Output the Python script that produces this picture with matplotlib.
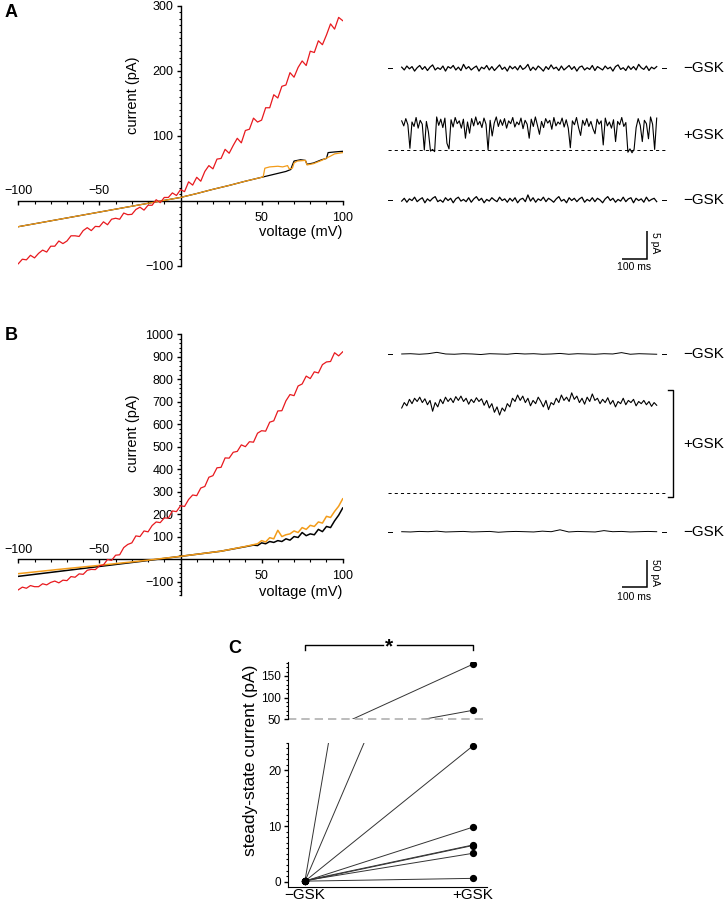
import numpy as np
import matplotlib
matplotlib.use('Agg')
import matplotlib.pyplot as plt
from matplotlib.ticker import MultipleLocator, FixedLocator

plt.rcParams['font.family'] = ['Liberation Sans', 'DejaVu Sans']

W, H = 726, 907
RED = '#e8191e'
ORANGE = '#f39c1a'

# ---------------- data ----------------
# voltage ramp (mV) used for the +GSK I-V traces
ramp_v = np.arange(-100, 100.1, 2.5)

# panel A, I-V (pA)
a_iv_gsk = [-97, -90, -91, -84, -88, -81, -76, -79, -70, -70,
            -62, -66, -62, -54, -54, -55, -46, -41.5, -46, -39.5,
            -40, -32.5, -37, -28.5, -27, -28.5, -19, -21.5, -21, -13.5,
            -10, -14.5, -7, -7, 1.5, -3, 5, 5, 12, 8,
            17, 14, 29, 24, 36, 30, 45, 54, 49, 64,
            65, 79, 73, 85, 96, 89, 108, 110, 127, 121,
            124, 143, 143, 163, 158, 176, 178, 197, 190, 205,
            215, 208, 230, 228, 246, 240, 255, 272, 264, 282,
            277]
a_ctrl_v = [-100, -90, -80, -70, -60, -50, -40, -30, -20, -10, 0, 10, 20, 30, 40, 50,
            55, 60, 65, 67, 68, 69, 70, 74, 77, 78, 82, 87, 90, 91, 95, 100]
a_ctrl_i = [-40, -35.5, -31, -26.5, -22, -17.5, -13, -8.5, -4, 0.5, 5, 11, 17.5, 23.5, 30, 36,
            39, 42, 45, 47, 48, 55, 61, 63, 62, 56, 58, 63, 65, 74, 75, 76]
a_wash_v = [-100, -90, -80, -70, -60, -50, -40, -30, -20, -10, 0, 10, 20, 30, 40, 50,
            51, 52, 55, 60, 63, 66, 67, 69, 70, 72, 77, 78, 82, 87, 92, 95, 100]
a_wash_i = [-40, -35.5, -31, -26.5, -22, -17.5, -13, -8.5, -4, 0.5, 5, 11, 17.5, 23.5, 30, 36,
            37, 50, 52, 53, 52, 54, 49, 50, 58, 61, 62, 55, 57, 62, 68, 72, 74]

# panel B, I-V (pA)
b_iv_gsk = [-137, -125, -130, -118, -123, -123, -110, -115, -104, -98,
            -106, -94, -96, -78, -81, -66, -68, -50, -46, -47,
            -30, -26, -2, -6, 17, 19, 51, 65, 72, 103,
            100, 125, 121, 149, 165, 162, 183, 182, 214, 211,
            237, 234, 265, 285, 282, 316, 323, 364, 371, 406,
            408, 450, 449, 475, 479, 508, 500, 522, 520, 560,
            571, 569, 609, 615, 659, 660, 704, 732, 727, 770,
            779, 814, 803, 833, 828, 865, 877, 879, 918, 904,
            922]
b_side_v = [-100, -75, -50, -25, 0, 25, 40, 45, 47.5, 50, 52.5, 55, 57.5, 60, 62.5,
            65, 67.5, 70, 72.5, 75, 77.5, 80, 82.5, 85, 87.5, 90, 92.5, 95, 97.5, 100]
b_ctrl_i = [-77, -55, -33, -11, 12, 35, 55, 62, 60, 72, 68, 78, 74, 82, 78,
            90, 84, 100, 96, 118, 104, 112, 108, 132, 122, 145, 140, 170, 195, 227]
b_wash_i = [-65, -46, -28, -9, 12, 35, 56, 64, 68, 82, 76, 95, 90, 128, 100,
            108, 112, 125, 118, 140, 132, 150, 145, 165, 160, 190, 185, 212, 235, 268]

# panel A, single-channel traces (pA around each baseline)
a_trace_pre = [0.2, -0.3, 0.4, -0.1, 0.3, -0.5, 0.1, 0.5, -0.2, 0.3, -0.4, 0.2, 0.6, -0.3, 0.1,
               -0.2, 0.4, -0.5, 0.3, 0.0, 0.5, -0.3, 0.2, -0.4, 0.7, -0.1, 0.3, -0.3, 0.1, 0.4,
               -0.5, 0.2, -0.1, 0.5, -0.3, 0.3, -0.4, 0.1, 0.6, -0.2, 0.2, -0.5, 0.4, -0.1, 0.3,
               -0.3, 0.5, -0.2, 0.1, 0.7, -0.4, 0.2, -0.3, 0.4, 0.0, -0.5, 0.3, -0.2, 0.6, -0.1,
               0.2, -0.4, 0.4, -0.3, 0.1, 0.5, -0.2, 0.3, -0.5, 0.2, 0.4, -0.3, 0.1, -0.2, 0.5,
               -0.4, 0.3, 0.0, -0.3, 0.4, -0.1, 0.2, -0.5, 0.3, 0.6, -0.2, 0.1, -0.4, 0.4, -0.2,
               0.3, -0.3, 0.7, 0.1, -0.2, 0.4, -0.4, 0.2, -0.1, 0.3]
a_trace_gsk = [5.2, 4.3, 5.6, 4.5, 0.3, 5.0, 4.2, 5.8, 3.9, 5.3, 4.6, 0.0, 5.1, 3.2, -0.2,
               0.1, -0.3, 5.9, 4.4, 5.5, 4.0, 5.7, 1.2, 0.2, 5.4, 4.1, 5.8, 4.7, 5.2, 3.9,
               5.5, 2.1, 5.0, 3.0, 5.6, 4.3, 5.9, 4.5, 5.1, 4.0, 5.7, 4.6, 0.0, 5.3, 2.5,
               4.8, 5.9, 4.2, 5.4, 4.4, 5.6, 3.9, 5.2, 4.7, 5.8, 4.1, 5.0, 4.5, 5.7, 3.8,
               5.3, 4.6, 2.1, 5.5, 4.2, 5.9, 4.4, 2.8, 5.1, 4.0, 5.6, 4.8, 5.3, 3.7, 5.8,
               4.3, 5.0, 4.6, 5.7, 4.1, 5.4, 3.9, 0.4, 5.2, 4.5, 5.8, 4.0, 2.6, 5.3, 4.4,
               5.6, 4.2, 5.1, 3.8, 2.9, 5.5, 4.6, 5.2, 0.9, 5.7, 4.3, 5.0, 3.9, 5.4, 1.5,
               5.1, 4.5, 5.8, 4.2, 4.9, -0.4, 0.2, -0.5, 0.1, 4.0, 5.6, 4.4, 1.5, 5.3, 4.7,
               2.0, 5.9, 4.6, 0.1, 5.7]
a_trace_wash = [-0.2, 0.3, -0.4, 0.2, -0.1, 0.5, -0.3, 0.1, 0.4, -0.5, 0.2, -0.2, 0.3, 0.6, -0.3,
                0.0, -0.4, 0.4, -0.1, 0.3, -0.5, 0.2, 0.5, -0.2, 0.1, -0.3, 0.4, -0.4, 0.2, 0.6,
                -0.1, 0.3, -0.5, 0.1, -0.2, 0.4, 0.0, -0.3, 0.5, -0.1, 0.2, -0.4, 0.3, -0.2, 0.4,
                -0.5, 0.1, 0.3, -0.3, 0.9, -0.2, 0.4, -0.4, 0.2, -0.1, 0.5, -0.3, 0.3, 0.0, -0.4,
                0.2, 0.6, -0.2, 0.1, -0.5, 0.4, -0.1, 0.3, -0.3, 0.2, 0.5, -0.4, 0.1, -0.2, 0.4,
                -0.3, 0.3, 0.0, -0.5, 0.2, 0.6, -0.1, 0.3, -0.4, 0.1, -0.2, 0.5, -0.3, 0.2, 0.4,
                -0.5, 0.3, -0.1, 0.2, -0.4, 0.5, -0.2, 0.1, 0.3, -0.3]

# panel B, whole-patch traces (pA around each baseline)
b_trace_pre = [0, 0.5, -0.5, 0.5, 3, 0, -0.5, 0.5, 0, -1, 0.5, 0, -0.5, 1, 0,
               0.5, -0.5, 0, 1, -0.5, 0.5, 0, -0.5, 0.5, 0, 2.5, -0.5, 0.5, 0, -0.5]
b_trace_gsk = [158, 168, 162, 174, 166, 176, 170, 178, 168, 175,
               164, 172, 152, 168, 160, 174, 166, 178, 170, 176,
               168, 179, 172, 180, 170, 176, 165, 174, 168, 177,
               170, 175, 163, 172, 158, 166, 150, 160, 145, 158,
               152, 166, 160, 176, 170, 182, 172, 180, 168, 176,
               162, 172, 166, 178, 170, 160, 172, 155, 168, 164,
               176, 168, 182, 172, 178, 170, 186, 174, 180, 168,
               176, 165, 178, 170, 184, 172, 176, 166, 174, 168,
               177, 165, 172, 160, 170, 166, 176, 164, 172, 168,
               174, 162, 170, 166, 172, 164, 170, 161, 168, 163]
b_trace_wash = [0, -0.5, 0.5, 0, 1, -0.5, 0, 0.5, -0.5, 0, 0.5, -1, 0, 0.5, 0,
                -0.5, 1, 0, 3.5, -0.5, 0.5, 0, -0.5, 2, 0, 0.5, -0.5, 0, 0.5, 0]

# panel C, steady-state current (pA)
c_labels = ['\u2212GSK', '+GSK']
c_before = [0.2, 0.1, 0.1, 0.1, 0.2, 0.1, 0.2, 0.1]
c_after = [177, 70.7, 24.4, 9.8, 6.6, 6.5, 5.1, 0.6]

row_labels = ['\u2212GSK', '+GSK', '\u2212GSK']
trace_ms = 1020


def px_box(x0, y0, x1, y1):
    return [x0 / W, 1 - y1 / H, (x1 - x0) / W, (y1 - y0) / H]


def fmt(v):
    return f'{v:g}'.replace('-', '\u2212')


fig = plt.figure(figsize=(W / 100, H / 100), dpi=100)


def iv_axes(box, ylim, major_y, minor_y, ylab_pos, xlab_y):
    ax = fig.add_axes(box)
    ax.set_xlim(-100, 100)
    ax.set_ylim(*ylim)
    ax.patch.set_visible(False)
    for s in ['top', 'right']:
        ax.spines[s].set_visible(False)
    ax.spines['left'].set_position(('data', 0))
    ax.spines['bottom'].set_position(('data', 0))
    for s in ['left', 'bottom']:
        ax.spines[s].set_linewidth(1.0)
        ax.spines[s].set_zorder(1)
    ax.xaxis.set_major_locator(FixedLocator([-100, -50, 50, 100]))
    ax.xaxis.set_minor_locator(MultipleLocator(10))
    ax.yaxis.set_major_locator(FixedLocator(major_y))
    ax.yaxis.set_minor_locator(MultipleLocator(minor_y))
    ax.xaxis.set_major_formatter(lambda v, p: '' if v < 0 else fmt(v))
    ax.yaxis.set_major_formatter(lambda v, p: fmt(v))
    ax.tick_params(which='major', length=3.2, width=1.0, labelsize=9, pad=2)
    ax.tick_params(which='minor', length=1.8, width=0.8)
    ax.tick_params(axis='x', which='major', pad=5)
    for v in [-100, -50]:
        ax.annotate(fmt(v), xy=(v, 0), xytext=(0, 2.5), textcoords='offset points',
                    ha='center', va='bottom', fontsize=9)
    ax.text(ylab_pos[0], ylab_pos[1], 'current (pA)', rotation=90, ha='center', va='center',
            fontsize=10.5, transform=ax.transAxes)
    ax.text(1.0, xlab_y, 'voltage (mV)', ha='right', va='center', fontsize=10.5,
            transform=ax.transAxes)
    return ax


def trace_axes(box, ylim):
    ax = fig.add_axes(box)
    ax.set_xlim(-86.8, 1113.2)
    ax.set_ylim(*ylim)
    ax.axis('off')
    return ax


def draw_trace(ax, vals, offset, lw):
    t = np.linspace(0, trace_ms, len(vals))
    ax.plot(t, np.asarray(vals) + offset, color='black', lw=lw)


def end_dashes(ax, offset):
    ax.plot([-55, -40], [offset, offset], color='black', lw=0.7)
    ax.plot([1042, 1057], [offset, offset], color='black', lw=0.7)


def full_dashes(ax, offset):
    ax.plot([-55, 1062], [offset, offset], color='black', lw=0.7, dashes=(3.2, 3.2))


def scale_bar(ax, x0, y0, dy, ylab, ylab_y, xlab_dy):
    ax.plot([x0, x0 + 100, x0 + 100], [y0, y0, y0 + dy], color='black', lw=1.1,
            solid_capstyle='butt', solid_joinstyle='miter')
    ax.text(x0 + 50, y0 - xlab_dy, '100 ms', ha='center', va='top', fontsize=7.5)
    ax.text(x0 + 135, ylab_y, ylab, rotation=270, ha='center', va='center', fontsize=7.5)


# ---------------- panel A ----------------
ax_a = iv_axes(px_box(18.3, 5.7, 342.7, 265.7), (-100, 300), [-100, 100, 200, 300], 10,
               (0.354, 0.656), 0.131)
ax_a.plot(a_ctrl_v, a_ctrl_i, color='black', lw=0.9)
ax_a.plot(a_wash_v, a_wash_i, color=ORANGE, lw=0.9)
ax_a.plot(ramp_v, a_iv_gsk, color=RED, lw=0.9)

ta = trace_axes(px_box(380, 40, 680, 280), (-14.29, 28.57))
a_offsets = [23.52, 8.93, 0.0]
end_dashes(ta, a_offsets[0])
draw_trace(ta, a_trace_pre, a_offsets[0], 0.9)
full_dashes(ta, a_offsets[1])
draw_trace(ta, a_trace_gsk, a_offsets[1], 0.8)
end_dashes(ta, a_offsets[2])
draw_trace(ta, a_trace_wash, a_offsets[2], 0.9)
for lab, y in zip(row_labels, [a_offsets[0], a_offsets[1] + 2.7, a_offsets[2]]):
    ta.text(1126, y, lab, ha='left', va='center', fontsize=11)
scale_bar(ta, 880, -10.54, 5, '5 pA', -7.6, 0.5)

# ---------------- panel B ----------------
ax_b = iv_axes(px_box(18.3, 334.3, 342.7, 595), (-160, 1000),
               [v for v in range(-100, 1001, 100) if v != 0], 20,
               (0.354, 0.621), 0.013)
ax_b.plot(b_side_v, b_ctrl_i, color='black', lw=1.1)
ax_b.plot(b_side_v, b_wash_i, color=ORANGE, lw=1.1)
ax_b.plot(ramp_v, b_iv_gsk, color=RED, lw=0.9)

tb = trace_axes(px_box(380, 330, 680, 610), (-145.0, 373.5))
b_offsets = [329.1, 71.1, 0.0]
end_dashes(tb, b_offsets[0])
draw_trace(tb, b_trace_pre, b_offsets[0], 0.7)
full_dashes(tb, b_offsets[1])
draw_trace(tb, b_trace_gsk, b_offsets[1], 0.8)
end_dashes(tb, b_offsets[2])
draw_trace(tb, b_trace_wash, b_offsets[2], 0.7)
# bracket spanning the +GSK current
tb.plot([1066, 1086, 1086, 1066], [b_offsets[1] + 192, b_offsets[1] + 192,
                                   b_offsets[1] - 6, b_offsets[1] - 6],
        color='black', lw=1.0, clip_on=False)
for lab, y in zip(row_labels, [b_offsets[0], b_offsets[1] + 91, b_offsets[2]]):
    tb.text(1126, y, lab, ha='left', va='center', fontsize=11)
scale_bar(tb, 880, -101.9, 50, '50 pA', -75.6, 9)

# ---------------- panel C ----------------
xl = (-0.0996, 1.087)
ax_lo = fig.add_axes(px_box(288.3, 742.7, 487.3, 886.7))
ax_up = fig.add_axes(px_box(288.3, 661.7, 487.3, 719.3))
for ax in (ax_lo, ax_up):
    ax.set_xlim(*xl)
    ax.patch.set_visible(False)
    for b0, b1 in zip(c_before, c_after):
        ax.plot([0, 1], [b0, b1], color='#333333', lw=0.7)
    ax.plot([0] * len(c_before), c_before, 'o', color='black', ms=4.2)
    ax.plot([1] * len(c_after), c_after, 'o', color='black', ms=4.2)
    for s in ['top', 'right']:
        ax.spines[s].set_visible(False)
    ax.tick_params(which='major', length=3.2, width=1.0, labelsize=8.5, pad=2)
    ax.tick_params(which='minor', length=1.8, width=0.8)

ax_lo.set_ylim(-0.9, 25)
ax_lo.yaxis.set_major_locator(FixedLocator([0, 10, 20]))
ax_lo.yaxis.set_minor_locator(MultipleLocator(1))
ax_lo.set_xticks([0, 1], c_labels)
ax_lo.tick_params(axis='x', length=0, labelsize=11, pad=1)

ax_up.set_ylim(50, 183)
ax_up.yaxis.set_major_locator(FixedLocator([50, 100, 150]))
ax_up.yaxis.set_minor_locator(MultipleLocator(10))
ax_up.spines['bottom'].set_visible(False)
ax_up.xaxis.set_visible(False)
ax_up.axhline(50, color='#b0b0b0', lw=1.2, dashes=(5, 3), clip_on=False)

# significance bracket
ax_up.plot([0, 0, 0.463], [209.7, 221, 221], color='black', lw=1.0, clip_on=False)
ax_up.plot([0.547, 1, 1], [221, 221, 209.7], color='black', lw=1.0, clip_on=False)
ax_up.text(0.5, 218, '*', ha='center', va='center', fontsize=15, fontweight='bold')

fig.text(250 / W, 1 - 760 / H, 'steady-state current (pA)', rotation=90, ha='center',
         va='center', fontsize=12.5)

# panel letters
for lab, x, y in [('A', 5, 4), ('B', 5, 327), ('C', 228, 640)]:
    fig.text(x / W, 1 - y / H, lab, ha='left', va='top', fontsize=13, fontweight='bold')

fig.savefig('out.png', dpi=100)
